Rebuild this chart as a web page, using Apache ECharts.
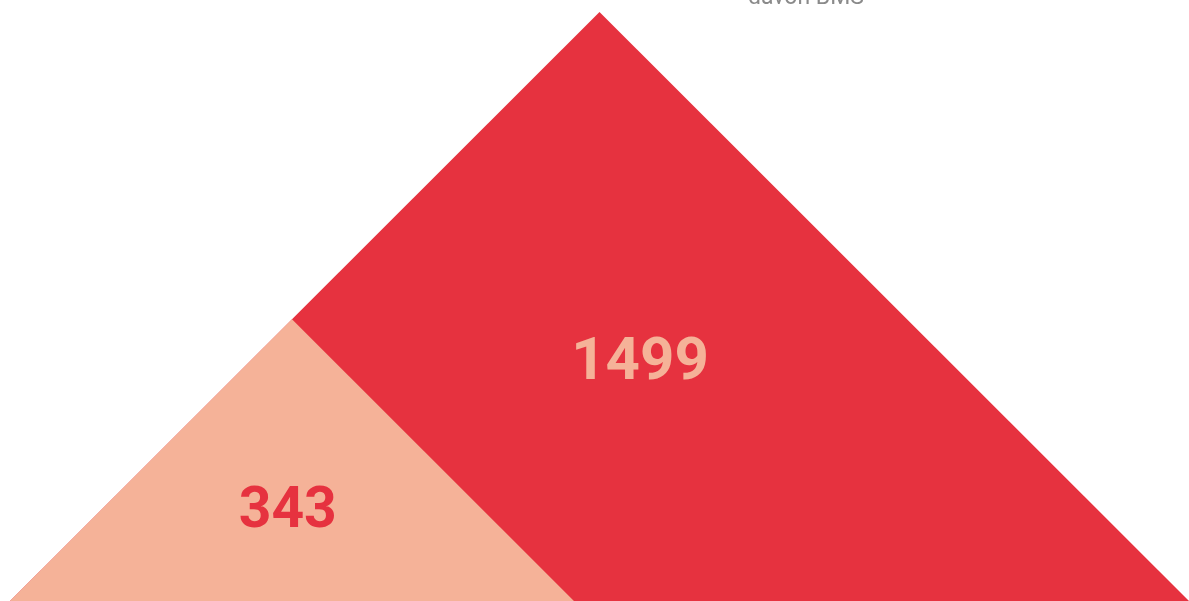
<!DOCTYPE html>
<html>
<head>
<meta charset="utf-8">
<script src="https://cdn.jsdelivr.net/npm/echarts@6/dist/echarts.min.js"></script>
<style>
html,body{margin:0;padding:0;background:#fff;}
#chart{width:1189px;height:601px;}
</style>
</head>
<body>
<div id="chart"></div>
<script>
// Data
const categories = ['Gesamt', 'davon BMS'];
const values = [1499, 343];
const legendTitle = 'davon BMS';

const COLORS = ['#E6323F', '#F5B298'];
const LABEL_COLORS = ['#F5B298', '#E6323F'];

const total = values[0];

const chart = echarts.init(document.getElementById('chart'), null, {renderer: 'canvas'});

const option = {
  animation: false,
  grid: {left: 10, right: 0, top: 12, bottom: 0},
  xAxis: {type: 'value', min: -1, max: 1, show: false},
  yAxis: {type: 'value', min: 0, max: 1, show: false},
  graphic: [{
    type: 'text',
    left: 748,
    top: -13,
    style: {text: legendTitle, fill: '#8a8a8a', font: '23px Roboto'}
  }],
  series: [{
    type: 'custom',
    data: values.map((v, i) => [i, v]),
    renderItem: function (params, api) {
      const i = api.value(0);
      const sc = Math.sqrt(api.value(1) / total);
      const x0 = -1;
      const pts = [[x0, 0], [x0 + 2 * sc, 0], [x0 + sc, sc]].map(p => api.coord(p));
      let labelPt;
      if (i === 0) {
        labelPt = api.coord([0.0687, 0.402]);
      } else {
        labelPt = api.coord([x0 + sc * 0.985, sc * 0.314]);
      }
      return {
        type: 'group',
        children: [{
          type: 'polygon',
          shape: {points: pts},
          style: {fill: COLORS[i]}
        }, {
          type: 'text',
          x: labelPt[0],
          y: labelPt[1],
          z2: 10,
          style: {
            text: String(api.value(1)),
            fill: LABEL_COLORS[i],
            font: 'bold ' + (i === 0 ? 60 : 57) + 'px Roboto',
            align: 'center',
            verticalAlign: 'middle'
          }
        }]
      };
    }
  }]
};
chart.setOption(option);
</script>
</body>
</html>
